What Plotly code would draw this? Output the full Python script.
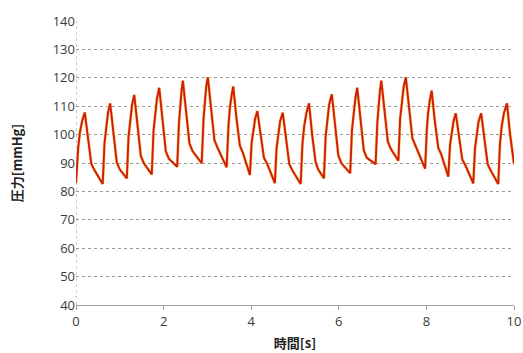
import plotly.graph_objects as go

time_s = [
    0.00, 0.05, 0.09, 0.14, 0.20, 0.27, 0.35, 0.42,
    0.61, 0.65, 0.69, 0.73, 0.78, 0.85, 0.93, 1.00,
    1.16, 1.20, 1.24, 1.28, 1.33, 1.40, 1.48, 1.55,
    1.73, 1.77, 1.81, 1.85, 1.90, 1.97, 2.05, 2.12,
    2.31, 2.35, 2.38, 2.41, 2.44, 2.51, 2.59, 2.66,
    2.87, 2.91, 2.94, 2.97, 3.01, 3.08, 3.16, 3.23,
    3.44, 3.48, 3.51, 3.55, 3.59, 3.66, 3.74, 3.81,
    3.97, 4.01, 4.05, 4.09, 4.14, 4.21, 4.29, 4.36,
    4.54, 4.58, 4.62, 4.66, 4.72, 4.79, 4.87, 4.94,
    5.13, 5.17, 5.21, 5.26, 5.32, 5.39, 5.47, 5.53,
    5.66, 5.70, 5.74, 5.78, 5.84, 5.91, 5.99, 6.06,
    6.26, 6.30, 6.34, 6.38, 6.42, 6.49, 6.57, 6.64,
    6.84, 6.88, 6.91, 6.94, 6.97, 7.04, 7.12, 7.19,
    7.36, 7.40, 7.44, 7.48, 7.53, 7.60, 7.68, 7.75,
    7.97, 8.01, 8.04, 8.08, 8.12, 8.19, 8.27, 8.34,
    8.50, 8.54, 8.58, 8.62, 8.67, 8.74, 8.82, 8.89,
    9.07, 9.11, 9.15, 9.19, 9.25, 9.32, 9.40, 9.47,
    9.64, 9.68, 9.72, 9.77, 9.84, 9.91, 10.00,
]

pressure_mmHg = [
    83.0, 95.4, 100.9, 104.8, 107.8, 98.4, 89.7, 87.5,
    82.6, 96.8, 103.0, 107.6, 111.0, 100.2, 90.3, 87.7,
    84.6, 99.3, 105.8, 110.5, 114.0, 102.8, 92.5, 89.9,
    86.0, 101.3, 108.0, 112.8, 116.5, 104.9, 94.2, 91.5,
    88.7, 103.9, 110.5, 115.4, 119.0, 107.5, 96.9, 94.2,
    89.9, 105.1, 111.7, 116.6, 120.2, 108.7, 98.1, 95.4,
    88.5, 102.8, 109.0, 113.6, 117.0, 106.2, 96.2, 93.6,
    85.8, 97.1, 102.0, 105.6, 108.3, 99.7, 91.9, 89.9,
    82.9, 95.3, 100.8, 104.7, 107.7, 98.3, 89.6, 87.4,
    82.6, 96.8, 103.0, 107.6, 111.0, 100.2, 90.3, 87.7,
    84.6, 99.4, 105.9, 110.6, 114.2, 102.9, 92.6, 89.9,
    86.4, 101.5, 108.1, 112.9, 116.5, 105.1, 94.5, 91.8,
    89.6, 104.3, 110.8, 115.5, 119.0, 107.8, 97.5, 94.9,
    90.8, 105.5, 112.0, 116.7, 120.2, 109.0, 98.7, 96.1,
    88.0, 101.8, 107.8, 112.2, 115.5, 105.1, 95.4, 93.0,
    85.2, 96.4, 101.3, 104.8, 107.5, 99.0, 91.2, 89.2,
    82.8, 95.2, 100.6, 104.5, 107.5, 98.1, 89.5, 87.3,
    82.6, 96.8, 103.0, 107.6, 111.0, 100.2, 89.6,
]

x_ticks = [0, 2, 4, 6, 8, 10]
y_ticks = [40, 50, 60, 70, 80, 90, 100, 110, 120, 130, 140]

fig = go.Figure()
fig.add_trace(go.Scatter(
    x=time_s, y=pressure_mmHg, mode="lines",
    line=dict(color="#f7cf5a", width=3.0), hoverinfo="skip", showlegend=False,
))
fig.add_trace(go.Scatter(
    x=time_s, y=pressure_mmHg, mode="lines",
    line=dict(color="#d01a16", width=1.9), showlegend=False,
))

tick_font = dict(family="Open Sans, Liberation Sans, sans-serif", size=13, color="#3a3a3a")
title_font = dict(family="Noto Sans CJK JP, sans-serif", size=13, color="#222222")

fig.update_layout(
    width=523, height=353,
    margin=dict(l=76, r=9, t=21, b=48),
    paper_bgcolor="white", plot_bgcolor="white",
    xaxis=dict(
        range=[0, 10], tickvals=x_ticks, ticktext=[str(v) for v in x_ticks],
        showgrid=False, zeroline=False, automargin=False,
        showline=True, linecolor="#a0a0a0", linewidth=1,
        ticks="outside", ticklen=4, tickcolor="#a0a0a0",
        tickfont=tick_font,
        title=dict(text="<b>時間[s]</b>", font=title_font, standoff=10),
    ),
    yaxis=dict(
        range=[40, 140], tickvals=y_ticks, ticktext=[str(v) for v in y_ticks],
        showgrid=True, gridcolor="#9a9a9a", griddash="dot", gridwidth=1,
        zeroline=False, showline=False, ticks="", automargin=False,
        tickfont=tick_font,
        title=dict(text="<b>圧力[mmHg]</b>", font=title_font, standoff=27),
    ),
    shapes=[dict(type="line", xref="x", yref="paper", x0=0, x1=0, y0=0, y1=1,
                 line=dict(color="#9a9a9a", width=1, dash="dot"), layer="below")],
)

fig.write_html(
    "out.html",
    config={"displayModeBar": False},
    post_script="document.body.style.margin='0';document.body.style.overflow='hidden';",
)
